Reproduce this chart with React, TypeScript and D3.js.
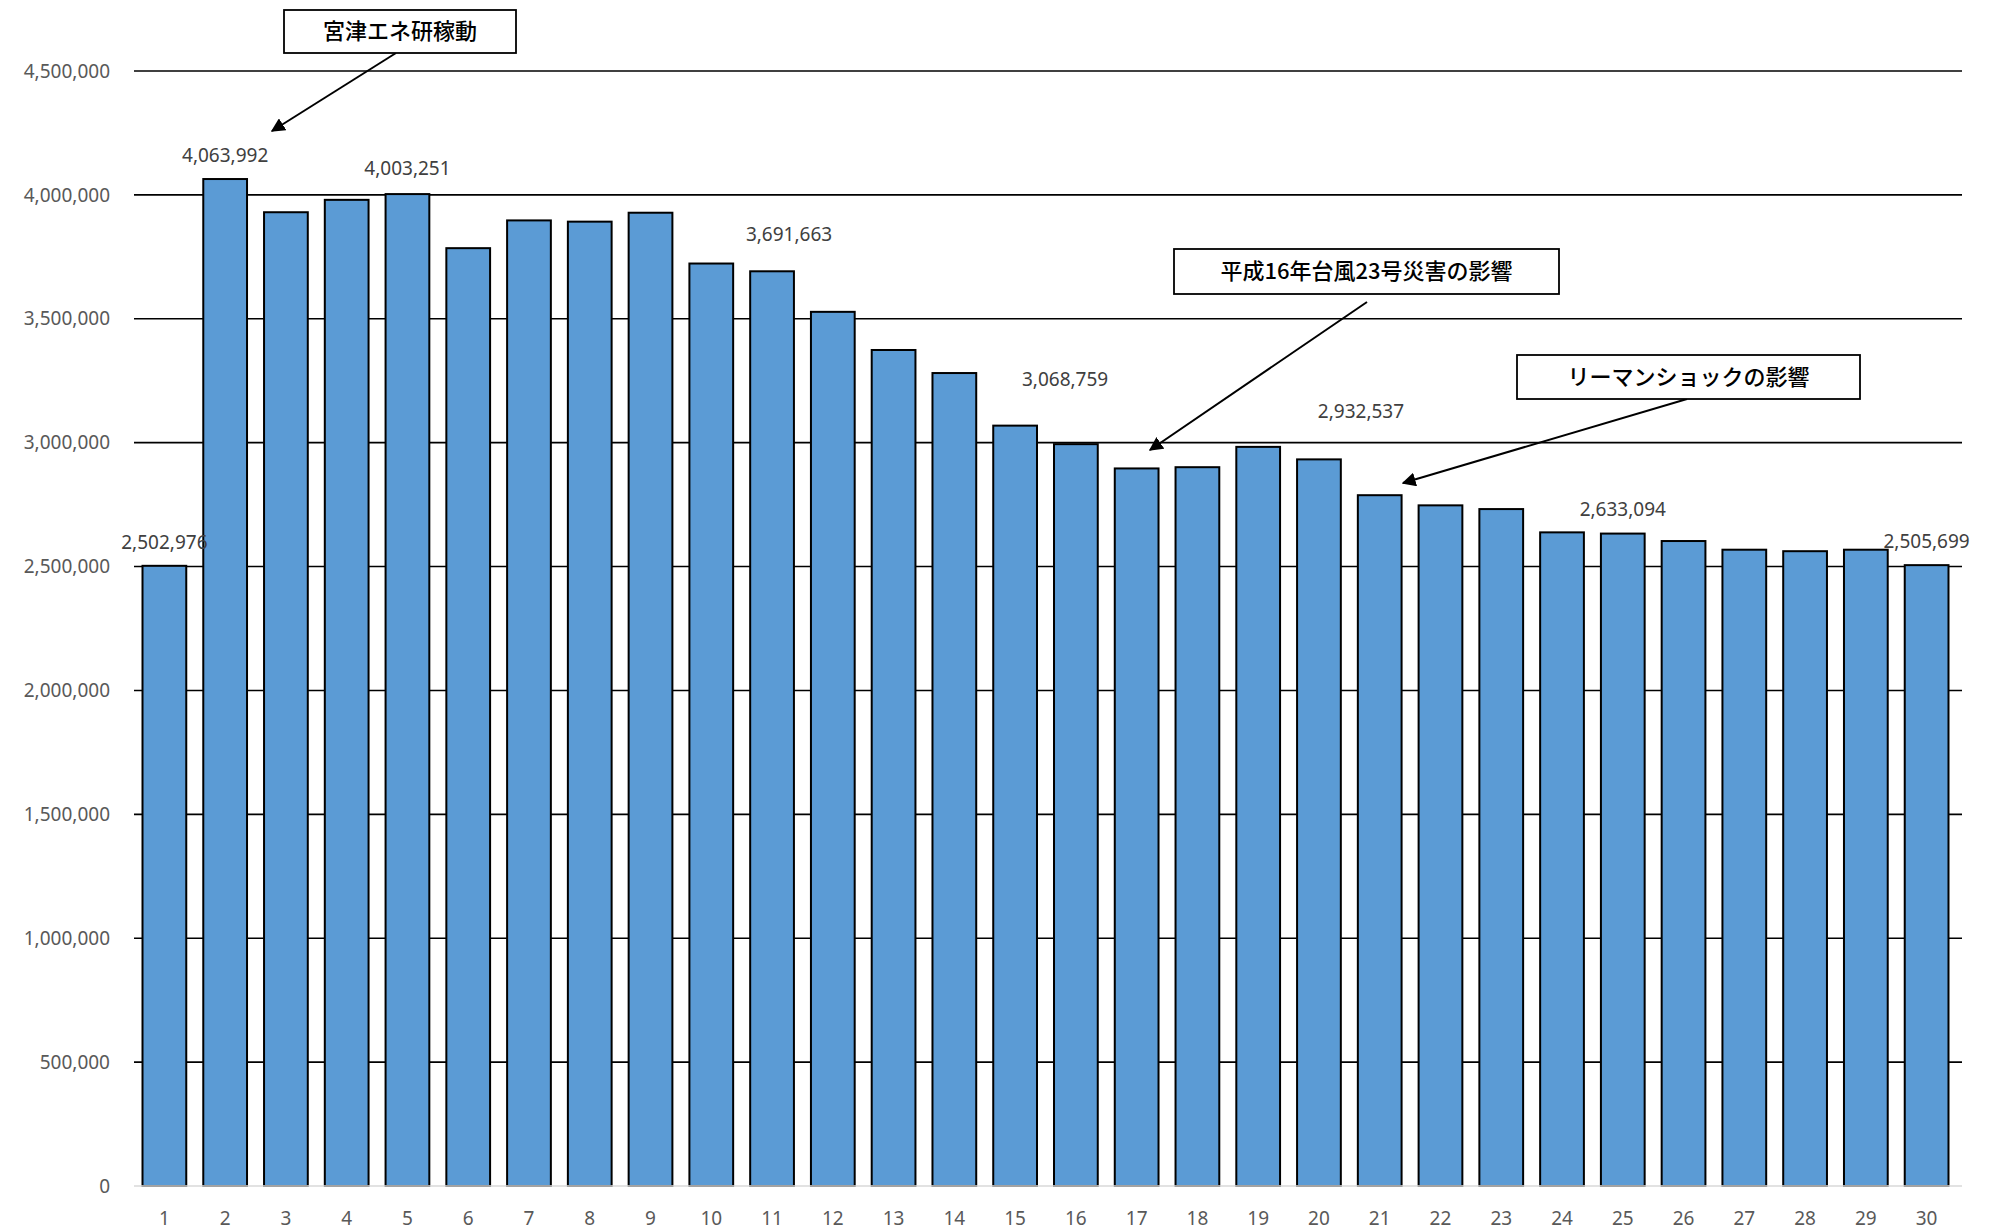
import React from "react";
import * as d3 from "d3";

const categories = Array.from({ length: 30 }, (_, i) => String(i + 1));
const values = [2502976, 4063992, 3930000, 3980000, 4003251, 3785000, 3897000, 3892000, 3928000, 3723000,
  3691663, 3528000, 3374000, 3281000, 3068759, 2994000, 2896000, 2901000, 2983000, 2932537,
  2788000, 2747000, 2732000, 2638000, 2633094, 2603000, 2568000, 2562000, 2568000, 2505699];
const labeled = [0, 1, 4, 10, 14, 19, 24, 29];
const labelDy = [-17, -17, -19, -30, -40, -41, -18, -17];
const labelDx = [0, 0, 0, 17, 50, 42, 0, 0];
const yTicks = d3.range(0, 4500001, 500000);
const annotations = [
  { text: "宮津エネ研稼動", box: [284, 10, 516, 53], from: [396, 53], to: [272, 131] },
  { text: "平成16年台風23号災害の影響", box: [1174, 249, 1559, 294], from: [1367, 302], to: [1150, 450] },
  { text: "リーマンショックの影響", box: [1517, 355, 1860, 399], from: [1687, 399], to: [1403, 483] },
];

export default function App() {
  const W = 1994, H = 1230;
  const x = d3.scaleBand().domain(categories).range([134, 1957]).paddingInner(0.28).paddingOuter(0.14);
  const y = d3.scaleLinear().domain([0, 4500000]).range([1186, 71]);
  const fmt = d3.format(",");
  const font = "'Noto Sans', sans-serif";
  return (
    <svg width={W} height={H} style={{ position: "absolute", left: 0, top: 0, background: "#fff" }}>
      <defs>
        <marker id="ah" viewBox="0 0 10 10" refX="9" refY="5" markerWidth="7" markerHeight="7" orient="auto">
          <path d="M0,0 L10,5 L0,10 z" fill="#000" />
        </marker>
      </defs>
      {yTicks.map((t) => (
        <g key={t}>
          {t > 0 && <line x1={134} x2={1962} y1={y(t)} y2={y(t)} stroke="#000" strokeWidth={1.6} />}
          <text x={110} y={y(t)} dy="0.35em" textAnchor="end" fontFamily={font} fontSize={19} fill="#595959">{fmt(t)}</text>
        </g>
      ))}
      {values.map((v, i) => (
        <rect key={i} x={x(categories[i])!} y={y(v)} width={x.bandwidth()} height={y(0) - y(v)}
          fill="#5b9bd5" stroke="#000" strokeWidth={2} />
      ))}
      <line x1={134} x2={1962} y1={y(0)} y2={y(0)} stroke="#d9d9d9" strokeWidth={1.5} />
      {categories.map((c) => (
        <text key={c} x={x(c)! + x.bandwidth() / 2} y={1225} textAnchor="middle" fontFamily={font} fontSize={19} fill="#595959">{c}</text>
      ))}
      {labeled.map((i, k) => (
        <text key={i} x={x(categories[i])! + x.bandwidth() / 2 + labelDx[k]} y={y(values[i]) + labelDy[k]} textAnchor="middle"
          fontFamily={font} fontSize={19} fill="#404040">{fmt(values[i])}</text>
      ))}
      {annotations.map((a, i) => (
        <g key={i}>
          <line x1={a.from[0]} y1={a.from[1]} x2={a.to[0]} y2={a.to[1]} stroke="#000" strokeWidth={2} markerEnd="url(#ah)" />
          <rect x={a.box[0]} y={a.box[1]} width={a.box[2] - a.box[0]} height={a.box[3] - a.box[1]} fill="#fff" stroke="#000" strokeWidth={1.8} />
          <text x={(a.box[0] + a.box[2]) / 2} y={(a.box[1] + a.box[3]) / 2} dy="0.36em" textAnchor="middle"
            fontFamily="'Noto Sans CJK JP', sans-serif" fontSize={22} fontWeight={500} fill="#000">{a.text}</text>
        </g>
      ))}
    </svg>
  );
}
